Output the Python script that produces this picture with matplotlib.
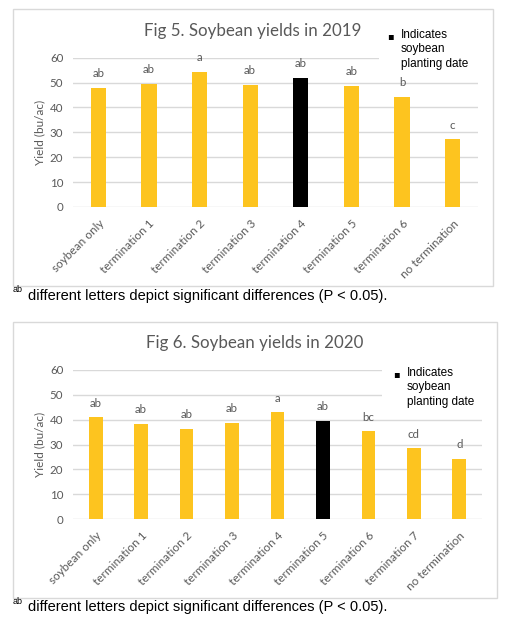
import matplotlib
matplotlib.use("Agg")
import matplotlib.pyplot as plt
from matplotlib.patches import Rectangle
from matplotlib.transforms import ScaledTranslation

# ---- data ----
cats_2019 = ["soybean only", "termination 1", "termination 2", "termination 3",
             "termination 4", "termination 5", "termination 6", "no termination"]
yield_2019 = [48.0, 49.6, 54.4, 49.1, 51.9, 48.7, 44.3, 27.3]
letters_2019 = ["ab", "ab", "a", "ab", "ab", "ab", "b", "c"]
planting_2019 = "termination 4"

cats_2020 = ["soybean only", "termination 1", "termination 2", "termination 3",
             "termination 4", "termination 5", "termination 6", "termination 7",
             "no termination"]
yield_2020 = [41.1, 38.3, 36.3, 38.7, 43.1, 39.5, 35.4, 28.6, 24.2]
letters_2020 = ["ab", "ab", "ab", "ab", "a", "ab", "bc", "cd", "d"]
planting_2020 = "termination 5"

yticks = [0, 10, 20, 30, 40, 50, 60]

W, H = 515, 621
GOLD = "#FDC41F"
GRAY_TXT = "#595959"
GRID = "#D9D9D9"
LBL_FONT = "Lato"

fig = plt.figure(figsize=(W / 100, H / 100), dpi=100)
fig.patch.set_facecolor("white")


def fx(x):
    return x / W


def fy(y):
    return 1 - y / H


def panel(box, ax_px, cats, vals, letters, plant, title, title_xy, leg_xy, cover, foot_y):
    bx0, by0, bx1, by1 = box
    fig.patches.append(Rectangle((fx(bx0), fy(by1)), fx(bx1) - fx(bx0), fy(by0) - fy(by1),
                                 transform=fig.transFigure, facecolor="white",
                                 edgecolor=GRID, linewidth=1.0, zorder=-1))
    x0, y0, x1, y1 = ax_px
    ax = fig.add_axes([fx(x0), fy(y1), fx(x1) - fx(x0), fy(y0) - fy(y1)])
    ax.set_facecolor("none")
    n = len(cats)
    xs = list(range(n))
    colors = ["black" if c == plant else GOLD for c in cats]
    ax.bar(xs, vals, width=0.3, color=colors, zorder=2)
    for xi, v, t in zip(xs, vals, letters):
        ax.annotate(t, (xi, v), xytext=(0, 7.5), textcoords="offset points",
                    ha="center", va="baseline", fontsize=8.3, color=GRAY_TXT,
                    family=LBL_FONT, zorder=3)
    ax.set_xlim(-0.5, n - 0.5)
    ax.set_ylim(0, 60)
    ax.set_yticks(yticks)
    ax.set_yticklabels([str(t) for t in yticks], fontsize=8.3, color=GRAY_TXT, family=LBL_FONT)
    ax.set_xticks(xs)
    ax.set_xticklabels(cats, rotation=45, ha="right", va="top", rotation_mode="anchor",
                       fontsize=8.5, color=GRAY_TXT, family=LBL_FONT)
    off = ScaledTranslation(3 / 100, 1 / 100, fig.dpi_scale_trans)
    for lab in ax.get_xticklabels():
        lab.set_transform(lab.get_transform() + off)
    ax.tick_params(axis="both", length=0)
    ax.tick_params(axis="y", pad=7)
    ax.tick_params(axis="x", pad=8)
    ax.yaxis.grid(True, color=GRID, linewidth=1.0, zorder=0.5)
    ax.set_axisbelow(True)
    for s in ["top", "right", "left", "bottom"]:
        ax.spines[s].set_visible(False)
    ax.set_ylabel("Yield (bu/ac)", fontsize=8.5, color=GRAY_TXT, family=LBL_FONT, labelpad=3)
    # white cover behind legend text
    cx0, cy0 = cover
    ax.add_patch(Rectangle((cx0, cy0), 1.02 - cx0, 1.1 - cy0, transform=ax.transAxes,
                           facecolor="white", edgecolor="none", clip_on=False, zorder=1))
    fig.text(fx(title_xy[0]), fy(title_xy[1]), title, ha="center", va="center",
             fontsize=12.2, color=GRAY_TXT, family=LBL_FONT)
    lx, ly = leg_xy
    fig.text(fx(lx), fy(ly), "\u25aa", ha="center", va="center", fontsize=7,
             color="black", family="DejaVu Sans")
    fig.text(fx(lx + 11), fy(ly - 7), "Indicates\nsoybean\nplanting date", ha="left",
             va="top", fontsize=8.5, color="black", family="Liberation Sans", linespacing=1.25)
    # footnote
    fig.text(fx(13), fy(foot_y - 8), "ab", ha="left", va="baseline", fontsize=6.5,
             color="black", family="Liberation Sans")
    fig.text(fx(27.5), fy(foot_y), "different letters depict significant differences (P < 0.05).",
             ha="left", va="baseline", fontsize=10.5, color="black", family="Liberation Sans")
    return ax


panel((13, 9, 493, 286), (73, 57.7, 478, 207), cats_2019, yield_2019, letters_2019,
      planting_2019, "Fig 5. Soybean yields in 2019", (253, 31), (390, 36), (0.756, 0.9), 300.5)
panel((13, 321.7, 497, 598), (73, 370, 482, 519), cats_2020, yield_2020, letters_2020,
      planting_2020, "Fig 6. Soybean yields in 2020", (255, 343), (396, 374), (0.755, 0.765), 611.5)

fig.savefig("out.png", dpi=100, facecolor="white")
